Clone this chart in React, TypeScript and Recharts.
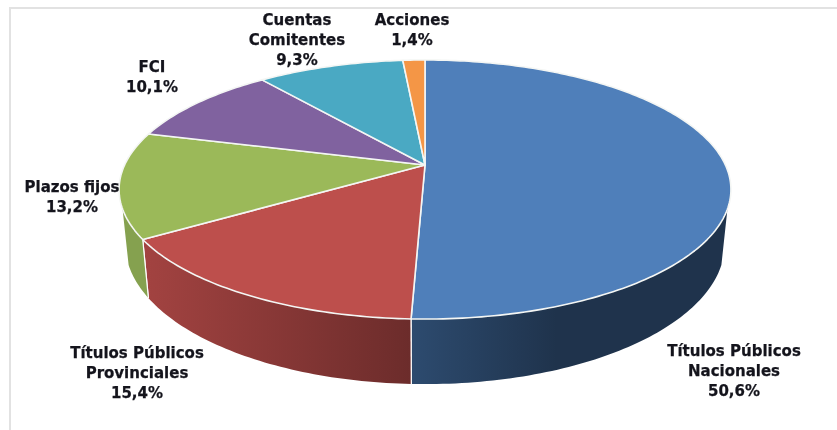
import React from "react";
import { PieChart, Pie } from "recharts";

const CATEGORY_LINES = [
  ["Títulos Públicos", "Nacionales"],
  ["Títulos Públicos", "Provinciales"],
  ["Plazos fijos"],
  ["FCI"],
  ["Cuentas", "Comitentes"],
  ["Acciones"],
];
const VALUES = [50.6, 15.4, 13.2, 10.1, 9.3, 1.4];
const TOP_COLORS = ["#4f7fba", "#bd4f4c", "#9bb959", "#80629f", "#4aa9c3", "#f49646"];
const SIDE_LEFT = ["#2d4b6f", "#a34341", "#85a14f", "#6b5287", "#3e8ea3", "#c97a38"];
const SIDE_RIGHT = ["#1f334c", "#6c2c2b", "#85a14f", "#6b5287", "#3e8ea3", "#c97a38"];
const SIDE_STOP = ["46%", "100%", "100%", "100%", "100%", "100%"];
// centre x and first-line centre y of every label
const LABEL_X = [734, 137, 72, 152, 297, 412];
const LABEL_Y = [350.5, 352.5, 186.5, 67, 20, 20];

const LINE_HEIGHT = 20;
const PERSPECTIVE = 0.1893;
const FLATTEN = 0.4158;
const DEPTH_X = 0.98;
const DEPTH_Y = 1.082;
const DEPTH_OFFSET = 52.4;
const SIDE_FROM = 109.3;
const SIDE_TO = 250.7;

const tableData = VALUES.map((value, i) => ({ name: CATEGORY_LINES[i].join(" "), value }));

const project = (cx: number, cy: number, r: number, theta: number, low = false) => {
  const t = (theta * Math.PI) / 180;
  const u = Math.sin(t);
  const v = Math.cos(t);
  const w = 1 + PERSPECTIVE * v;
  const x = (r * u) / w;
  const y = (-r * FLATTEN * v) / w;
  return low
    ? [cx + x * DEPTH_X, cy + y * DEPTH_Y + DEPTH_OFFSET]
    : [cx + x, cy + y];
};

const rim = (cx: number, cy: number, r: number, from: number, to: number, low = false) => {
  const steps = Math.max(2, Math.ceil(Math.abs(to - from)));
  const pts: number[][] = [];
  for (let i = 0; i <= steps; i++) {
    pts.push(project(cx, cy, r, from + ((to - from) * i) / steps, low));
  }
  return pts;
};

const toPath = (pts: number[][]) =>
  pts.map((p, i) => `${i ? "L" : "M"}${p[0].toFixed(2)},${p[1].toFixed(2)}`).join(" ");

const Slice3D = (props: any) => {
  const { cx, cy, outerRadius: r, startAngle, endAngle, index } = props;
  const from = 90 - startAngle;
  const to = 90 - endAngle;
  const topPath = `M${cx},${cy} ` + toPath(rim(cx, cy, r, from, to)).replace("M", "L") + " Z";
  const sFrom = Math.max(from, SIDE_FROM);
  const sTo = Math.min(to, SIDE_TO);
  const gid = `side-${index}`;
  let side = null;
  if (sTo > sFrom) {
    const upper = rim(cx, cy, r, sFrom, sTo);
    const lower = rim(cx, cy, r, sFrom, sTo, true).reverse();
    const edges: React.ReactNode[] = [];
    [from, to].forEach((a, k) => {
      if (a > SIDE_FROM && a < SIDE_TO) {
        const p = project(cx, cy, r, a);
        const q = project(cx, cy, r, a, true);
        edges.push(
          <line key={k} x1={p[0]} y1={p[1]} x2={q[0]} y2={q[1]} stroke="#ffffff" strokeWidth={1.2} />
        );
      }
    });
    side = (
      <g>
        <defs>
          <linearGradient id={gid} x1="0" y1="0" x2="1" y2="0">
            <stop offset="0%" stopColor={SIDE_LEFT[index]} />
            <stop offset={SIDE_STOP[index]} stopColor={SIDE_RIGHT[index]} />
          </linearGradient>
        </defs>
        <path d={toPath([...upper, ...lower]) + " Z"} fill={`url(#${gid})`} />
        {edges}
      </g>
    );
  }
  return (
    <g>
      {side}
      <path d={topPath} fill={TOP_COLORS[index]} stroke="#f4f6f4" strokeWidth={1.6} strokeLinejoin="round" />
    </g>
  );
};

const SliceLabel = (props: any) => {
  const { index } = props;
  const lines = [...CATEGORY_LINES[index], `${String(VALUES[index]).replace(".", ",")}%`];
  return (
    <text
      x={LABEL_X[index]}
      y={LABEL_Y[index]}
      textAnchor="middle"
      fontFamily="'DejaVu Sans', Verdana, sans-serif"
      fontWeight="bold"
      fontSize={15}
      fill="#14141c"
      stroke="#14141c"
      strokeWidth={0.25}
    >
      {lines.map((line, i) => (
        <tspan key={i} x={LABEL_X[index]} y={LABEL_Y[index] + i * LINE_HEIGHT} dominantBaseline="central">
          {line}
        </tspan>
      ))}
    </text>
  );
};

export default function App() {
  return (
    <div style={{ position: "absolute", left: 0, top: 0, width: 837, height: 430, overflow: "hidden", background: "#fff" }}>
      <div
        style={{
          position: "absolute",
          left: 9,
          top: 7,
          width: 828,
          height: 423,
          boxSizing: "border-box",
          borderLeft: "2px solid #e2e2e2",
          borderTop: "2px solid #e2e2e2",
        }}
      />
      <div style={{ position: "absolute", left: 0, top: 0, filter: "blur(0.45px)" }}>
        <PieChart width={837} height={430} margin={{ top: 0, right: 0, bottom: 0, left: 0 }}>
          <Pie
            data={tableData}
            dataKey="value"
            nameKey="name"
            cx={425}
            cy={165}
            innerRadius={0}
            outerRadius={300.4}
            startAngle={90}
            endAngle={-270}
            stroke="none"
            shape={Slice3D}
            label={SliceLabel}
            labelLine={false}
            isAnimationActive={false}
          />
        </PieChart>
      </div>
    </div>
  );
}
